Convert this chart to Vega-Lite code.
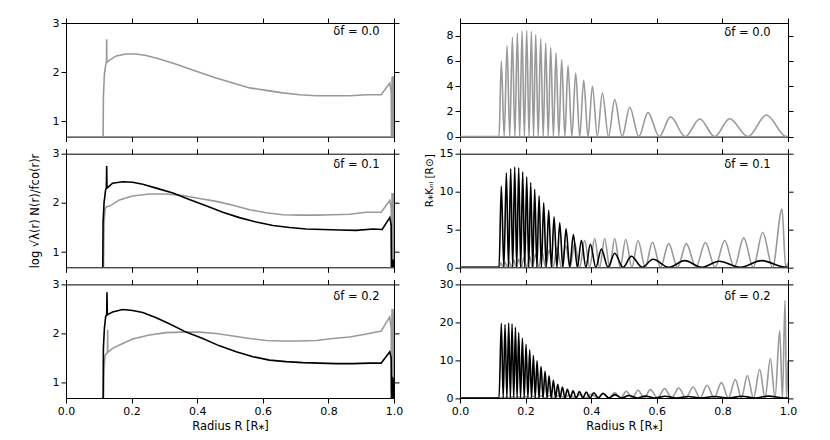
{
"$schema": "https://vega.github.io/schema/vega-lite/v6.json",
"padding": {"left": 28, "top": 16, "right": 5, "bottom": 5},
"autosize": {"type": "pad"},
"background": "white",
"bounds": "flush",
"columns": 2,
"spacing": {"row": 16.7, "column": 66},
"datasets": {
"L0g": [{"x":0.113,"y":0.5},{"x":0.114,"y":1.5},{"x":0.117,"y":1.95},{"x":0.121,"y":2.15},{"x":0.1235,"y":2.22},{"x":0.124,"y":2.67},{"x":0.1245,"y":2.2},{"x":0.132,"y":2.24},{"x":0.153,"y":2.33},{"x":0.183,"y":2.37},{"x":0.214,"y":2.37},{"x":0.244,"y":2.34},{"x":0.285,"y":2.27},{"x":0.336,"y":2.16},{"x":0.397,"y":2.02},{"x":0.458,"y":1.88},{"x":0.509,"y":1.78},{"x":0.56,"y":1.68},{"x":0.61,"y":1.63},{"x":0.661,"y":1.58},{"x":0.712,"y":1.54},{"x":0.763,"y":1.52},{"x":0.814,"y":1.52},{"x":0.865,"y":1.52},{"x":0.916,"y":1.54},{"x":0.961,"y":1.54},{"x":0.987,"y":1.78},{"x":0.9915,"y":1.6},{"x":0.9925,"y":0.5},{"x":0.994,"y":1.9},{"x":0.9955,"y":0.5},{"x":0.997,"y":1.92},{"x":0.9985,"y":0.5},{"x":1.0,"y":1.9}],
"L1g": [{"x":0.114,"y":0.5},{"x":0.116,"y":1.6},{"x":0.119,"y":1.88},{"x":0.123,"y":1.92},{"x":0.132,"y":1.93},{"x":0.163,"y":2.06},{"x":0.203,"y":2.14},{"x":0.254,"y":2.18},{"x":0.305,"y":2.18},{"x":0.356,"y":2.15},{"x":0.407,"y":2.09},{"x":0.458,"y":2.03},{"x":0.509,"y":1.95},{"x":0.56,"y":1.86},{"x":0.61,"y":1.8},{"x":0.661,"y":1.76},{"x":0.712,"y":1.75},{"x":0.763,"y":1.75},{"x":0.814,"y":1.76},{"x":0.865,"y":1.77},{"x":0.916,"y":1.81},{"x":0.961,"y":1.81},{"x":0.987,"y":2.05},{"x":0.9915,"y":1.9},{"x":0.9925,"y":0.5},{"x":0.994,"y":2.2},{"x":0.9955,"y":0.5},{"x":0.997,"y":2.2},{"x":0.9985,"y":0.5},{"x":1.0,"y":2.2}],
"L1k": [{"x":0.112,"y":0.5},{"x":0.113,"y":1.6},{"x":0.116,"y":2.0},{"x":0.121,"y":2.28},{"x":0.123,"y":2.3},{"x":0.124,"y":2.75},{"x":0.125,"y":2.3},{"x":0.127,"y":2.31},{"x":0.142,"y":2.4},{"x":0.173,"y":2.43},{"x":0.203,"y":2.42},{"x":0.234,"y":2.38},{"x":0.275,"y":2.3},{"x":0.326,"y":2.2},{"x":0.376,"y":2.07},{"x":0.427,"y":1.94},{"x":0.478,"y":1.81},{"x":0.529,"y":1.7},{"x":0.58,"y":1.61},{"x":0.631,"y":1.54},{"x":0.682,"y":1.5},{"x":0.732,"y":1.47},{"x":0.783,"y":1.46},{"x":0.834,"y":1.45},{"x":0.885,"y":1.44},{"x":0.936,"y":1.47},{"x":0.964,"y":1.46},{"x":0.987,"y":1.7},{"x":0.9915,"y":1.55},{"x":0.9925,"y":0.5},{"x":0.995,"y":0.85},{"x":0.997,"y":0.5},{"x":0.999,"y":0.85}],
"L2g": [{"x":0.114,"y":0.5},{"x":0.116,"y":1.3},{"x":0.119,"y":1.55},{"x":0.124,"y":1.6},{"x":0.1265,"y":1.62},{"x":0.127,"y":2.08},{"x":0.1275,"y":1.62},{"x":0.142,"y":1.7},{"x":0.173,"y":1.8},{"x":0.203,"y":1.89},{"x":0.254,"y":1.97},{"x":0.305,"y":2.02},{"x":0.356,"y":2.03},{"x":0.407,"y":2.03},{"x":0.458,"y":2.0},{"x":0.509,"y":1.95},{"x":0.56,"y":1.9},{"x":0.61,"y":1.86},{"x":0.661,"y":1.85},{"x":0.712,"y":1.85},{"x":0.763,"y":1.86},{"x":0.814,"y":1.9},{"x":0.865,"y":1.93},{"x":0.916,"y":1.99},{"x":0.961,"y":2.05},{"x":0.987,"y":2.34},{"x":0.9915,"y":2.1},{"x":0.9925,"y":0.5},{"x":0.994,"y":2.5},{"x":0.9955,"y":0.5},{"x":0.997,"y":2.5},{"x":0.9985,"y":0.5},{"x":1.0,"y":2.4}],
"L2k": [{"x":0.113,"y":0.5},{"x":0.114,"y":1.7},{"x":0.117,"y":2.1},{"x":0.121,"y":2.35},{"x":0.124,"y":2.38},{"x":0.125,"y":2.84},{"x":0.126,"y":2.38},{"x":0.128,"y":2.39},{"x":0.142,"y":2.44},{"x":0.173,"y":2.49},{"x":0.203,"y":2.47},{"x":0.234,"y":2.43},{"x":0.275,"y":2.32},{"x":0.315,"y":2.2},{"x":0.366,"y":2.03},{"x":0.417,"y":1.9},{"x":0.468,"y":1.75},{"x":0.519,"y":1.63},{"x":0.57,"y":1.53},{"x":0.62,"y":1.46},{"x":0.671,"y":1.43},{"x":0.722,"y":1.41},{"x":0.773,"y":1.4},{"x":0.824,"y":1.39},{"x":0.875,"y":1.39},{"x":0.926,"y":1.4},{"x":0.961,"y":1.4},{"x":0.987,"y":1.63},{"x":0.9915,"y":1.5},{"x":0.9925,"y":0.5},{"x":0.994,"y":1.12},{"x":0.9955,"y":0.5},{"x":0.997,"y":1.1},{"x":0.9985,"y":0.5},{"x":1.0,"y":1.0}],
"R0g": [{"x":0,"y":0},{"x":0.119,"y":0},{"x":0.126,"y":5.97},{"x":0.1347,"y":0},{"x":0.1434,"y":7.2},{"x":0.1516,"y":0},{"x":0.1597,"y":7.87},{"x":0.1673,"y":0},{"x":0.1749,"y":8.21},{"x":0.182,"y":0},{"x":0.1891,"y":8.37},{"x":0.1963,"y":0},{"x":0.2034,"y":8.4},{"x":0.2105,"y":0},{"x":0.2176,"y":8.34},{"x":0.2242,"y":0},{"x":0.2308,"y":8.08},{"x":0.2384,"y":0},{"x":0.246,"y":7.76},{"x":0.2537,"y":0},{"x":0.2613,"y":7.42},{"x":0.2689,"y":0},{"x":0.2765,"y":7.07},{"x":0.2847,"y":0},{"x":0.2928,"y":6.63},{"x":0.3014,"y":0},{"x":0.31,"y":6.1},{"x":0.3197,"y":0},{"x":0.3293,"y":5.62},{"x":0.341,"y":0},{"x":0.3527,"y":5.04},{"x":0.3649,"y":0},{"x":0.3771,"y":4.46},{"x":0.3904,"y":0},{"x":0.4036,"y":3.99},{"x":0.4188,"y":0},{"x":0.434,"y":3.46},{"x":0.4528,"y":0},{"x":0.4716,"y":2.93},{"x":0.4945,"y":0},{"x":0.5174,"y":2.32},{"x":0.5452,"y":0},{"x":0.573,"y":1.9},{"x":0.6075,"y":0},{"x":0.642,"y":1.56},{"x":0.6865,"y":0},{"x":0.731,"y":1.4},{"x":0.7765,"y":0},{"x":0.822,"y":1.42},{"x":0.878,"y":0},{"x":0.934,"y":1.71},{"x":0.995,"y":0},{"x":1.0,"y":0}],
"R1g": [{"x":0,"y":0},{"x":0.119,"y":0},{"x":0.125,"y":0.6},{"x":0.131,"y":0},{"x":0.137,"y":0.7},{"x":0.1435,"y":0},{"x":0.15,"y":0.8},{"x":0.157,"y":0},{"x":0.164,"y":0.95},{"x":0.1715,"y":0},{"x":0.179,"y":1.1},{"x":0.187,"y":0},{"x":0.195,"y":1.3},{"x":0.2035,"y":0},{"x":0.212,"y":1.5},{"x":0.221,"y":0},{"x":0.23,"y":1.75},{"x":0.24,"y":0},{"x":0.25,"y":2.0},{"x":0.261,"y":0},{"x":0.272,"y":2.3},{"x":0.284,"y":0},{"x":0.296,"y":2.6},{"x":0.309,"y":0},{"x":0.322,"y":2.9},{"x":0.3358,"y":0},{"x":0.3497,"y":3.2},{"x":0.3649,"y":0},{"x":0.3801,"y":3.57},{"x":0.3954,"y":0},{"x":0.4106,"y":3.79},{"x":0.4258,"y":0},{"x":0.441,"y":3.8},{"x":0.4563,"y":0},{"x":0.4716,"y":3.8},{"x":0.4884,"y":0},{"x":0.5052,"y":3.7},{"x":0.524,"y":0},{"x":0.5428,"y":3.53},{"x":0.5647,"y":0},{"x":0.5865,"y":3.31},{"x":0.6114,"y":0},{"x":0.6363,"y":3.13},{"x":0.6632,"y":0},{"x":0.6901,"y":3.13},{"x":0.7191,"y":0},{"x":0.7481,"y":3.27},{"x":0.7776,"y":0},{"x":0.807,"y":3.53},{"x":0.836,"y":0},{"x":0.865,"y":3.88},{"x":0.894,"y":0},{"x":0.9229,"y":4.59},{"x":0.953,"y":0},{"x":0.9818,"y":7.68},{"x":0.993,"y":0},{"x":1.0,"y":0.6}],
"R1k": [{"x":0,"y":0},{"x":0.119,"y":0},{"x":0.126,"y":10.72},{"x":0.1337,"y":0},{"x":0.1414,"y":12.48},{"x":0.148,"y":0},{"x":0.1546,"y":13.05},{"x":0.1607,"y":0},{"x":0.1668,"y":13.23},{"x":0.1729,"y":0},{"x":0.179,"y":13.14},{"x":0.1851,"y":0},{"x":0.1911,"y":12.6},{"x":0.1973,"y":0},{"x":0.2034,"y":11.95},{"x":0.2095,"y":0},{"x":0.2156,"y":11.2},{"x":0.2217,"y":0},{"x":0.2278,"y":10.3},{"x":0.2344,"y":0},{"x":0.241,"y":9.44},{"x":0.2481,"y":0},{"x":0.2552,"y":8.51},{"x":0.2628,"y":0},{"x":0.2704,"y":7.54},{"x":0.2786,"y":0},{"x":0.2867,"y":6.66},{"x":0.2954,"y":0},{"x":0.304,"y":5.87},{"x":0.3137,"y":0},{"x":0.3233,"y":5.07},{"x":0.3345,"y":0},{"x":0.3456,"y":4.32},{"x":0.3578,"y":0},{"x":0.37,"y":3.57},{"x":0.3837,"y":0},{"x":0.3974,"y":3.04},{"x":0.4142,"y":0},{"x":0.431,"y":2.4},{"x":0.4513,"y":0},{"x":0.4716,"y":1.85},{"x":0.497,"y":0},{"x":0.5224,"y":1.46},{"x":0.5555,"y":0},{"x":0.5885,"y":1.06},{"x":0.6368,"y":0},{"x":0.685,"y":0.88},{"x":0.7375,"y":0},{"x":0.79,"y":0.79},{"x":0.8545,"y":0},{"x":0.919,"y":0.88},{"x":0.995,"y":0},{"x":1.0,"y":0}],
"R2g": [{"x":0,"y":0},{"x":0.119,"y":0},{"x":0.127,"y":0.2},{"x":0.1345,"y":0},{"x":0.142,"y":0.25},{"x":0.1505,"y":0},{"x":0.159,"y":0.3},{"x":0.1685,"y":0},{"x":0.178,"y":0.35},{"x":0.1885,"y":0},{"x":0.199,"y":0.4},{"x":0.2105,"y":0},{"x":0.222,"y":0.45},{"x":0.2345,"y":0},{"x":0.247,"y":0.55},{"x":0.2605,"y":0},{"x":0.274,"y":0.65},{"x":0.2885,"y":0},{"x":0.303,"y":0.75},{"x":0.3185,"y":0},{"x":0.334,"y":0.85},{"x":0.3505,"y":0},{"x":0.367,"y":0.95},{"x":0.384,"y":0},{"x":0.401,"y":1.05},{"x":0.4185,"y":0},{"x":0.436,"y":1.15},{"x":0.4538,"y":0},{"x":0.4716,"y":1.42},{"x":0.4894,"y":0},{"x":0.5072,"y":1.77},{"x":0.525,"y":0},{"x":0.5428,"y":2.04},{"x":0.5616,"y":0},{"x":0.5804,"y":2.2},{"x":0.6022,"y":0},{"x":0.624,"y":2.48},{"x":0.6454,"y":0},{"x":0.6668,"y":2.65},{"x":0.6887,"y":0},{"x":0.7105,"y":2.92},{"x":0.7318,"y":0},{"x":0.7531,"y":3.36},{"x":0.775,"y":0},{"x":0.7969,"y":4.07},{"x":0.8182,"y":0},{"x":0.8395,"y":4.87},{"x":0.8578,"y":0},{"x":0.8761,"y":5.93},{"x":0.8949,"y":0},{"x":0.9137,"y":7.61},{"x":0.93,"y":0},{"x":0.9462,"y":10.35},{"x":0.9605,"y":0},{"x":0.9747,"y":17.8},{"x":0.983,"y":0},{"x":0.991,"y":25.8},{"x":0.9955,"y":0},{"x":1.0,"y":10}],
"R2k": [{"x":0,"y":0},{"x":0.119,"y":0},{"x":0.126,"y":19.7},{"x":0.1317,"y":0},{"x":0.1373,"y":19.4},{"x":0.1429,"y":0},{"x":0.1485,"y":19.8},{"x":0.1536,"y":0},{"x":0.1587,"y":19.6},{"x":0.1639,"y":0},{"x":0.169,"y":18.7},{"x":0.174,"y":0},{"x":0.179,"y":17.3},{"x":0.1846,"y":0},{"x":0.1902,"y":15.8},{"x":0.1958,"y":0},{"x":0.2014,"y":14.2},{"x":0.207,"y":0},{"x":0.2125,"y":12.7},{"x":0.2181,"y":0},{"x":0.2237,"y":11.2},{"x":0.2293,"y":0},{"x":0.2349,"y":9.8},{"x":0.241,"y":0},{"x":0.2471,"y":8.3},{"x":0.2532,"y":0},{"x":0.2593,"y":7.1},{"x":0.2654,"y":0},{"x":0.2715,"y":5.84},{"x":0.2781,"y":0},{"x":0.2847,"y":4.69},{"x":0.2914,"y":0},{"x":0.298,"y":3.63},{"x":0.3051,"y":0},{"x":0.3122,"y":2.92},{"x":0.3198,"y":0},{"x":0.3274,"y":2.3},{"x":0.336,"y":0},{"x":0.3446,"y":1.9},{"x":0.3543,"y":0},{"x":0.364,"y":1.7},{"x":0.3745,"y":0},{"x":0.385,"y":1.55},{"x":0.3965,"y":0},{"x":0.408,"y":1.4},{"x":0.422,"y":0},{"x":0.436,"y":1.25},{"x":0.454,"y":0},{"x":0.472,"y":0.9},{"x":0.4935,"y":0},{"x":0.515,"y":0.65},{"x":0.54,"y":0},{"x":0.565,"y":0.5},{"x":0.595,"y":0},{"x":0.625,"y":0.45},{"x":0.66,"y":0},{"x":0.695,"y":0.4},{"x":0.735,"y":0},{"x":0.775,"y":0.4},{"x":0.8175,"y":0},{"x":0.86,"y":0.45},{"x":0.9,"y":0},{"x":0.94,"y":0.5},{"x":0.99,"y":0},{"x":1.0,"y":0}]
},
"concat": [
{"width": 328, "height": 113.6, "resolve": {"axis": {"x": "independent", "y": "independent"}},
 "layer": [
  {"data": {"name": "L0g"}, "mark": {"type": "line", "color": "#999999", "strokeWidth": 1.6, "clip": true},
   "encoding": {"x": {"field": "x", "type": "quantitative", "scale": {"domain": [0, 1], "nice": false, "zero": false}, "axis": {"orient": "bottom", "values": [0,0.2,0.4,0.6,0.8,1], "labels": false, "title": null}},
    "y": {"field": "y", "type": "quantitative", "scale": {"domain": [0.69, 3], "nice": false, "zero": false}, "axis": {"orient": "left", "values": [1,2,3], "title": null}}}},
  {"data": {"values": [{}]}, "mark": {"type": "text", "align": "right", "baseline": "middle"},
   "encoding": {"x": {"datum": 0.956, "type": "quantitative", "axis": {"orient": "top", "values": [0,0.2,0.4,0.6,0.8,1], "labels": false, "title": null}},
    "y": {"datum": 2.82, "type": "quantitative", "axis": {"orient": "right", "values": [1,2,3], "labels": false, "title": null}},
    "text": {"value": "δf = 0.0"}}}
 ]},
{"width": 328, "height": 113.6, "resolve": {"axis": {"x": "independent", "y": "independent"}},
 "layer": [
  {"data": {"name": "R0g"}, "mark": {"type": "line", "color": "#999999", "strokeWidth": 1.6, "clip": true, "interpolate": "monotone"},
   "encoding": {"x": {"field": "x", "type": "quantitative", "scale": {"domain": [0, 1], "nice": false, "zero": false}, "axis": {"orient": "bottom", "values": [0,0.2,0.4,0.6,0.8,1], "labels": false, "title": null}},
    "y": {"field": "y", "type": "quantitative", "scale": {"domain": [0, 9], "nice": false}, "axis": {"orient": "left", "values": [0,2,4,6,8], "title": null}}}},
  {"data": {"values": [{}]}, "mark": {"type": "text", "align": "right", "baseline": "middle"},
   "encoding": {"x": {"datum": 0.947, "type": "quantitative", "axis": {"orient": "top", "values": [0,0.2,0.4,0.6,0.8,1], "labels": false, "title": null}},
    "y": {"datum": 8.24, "type": "quantitative", "axis": {"orient": "right", "values": [0,2,4,6,8], "labels": false, "title": null}},
    "text": {"value": "δf = 0.0"}}}
 ]},
{"width": 328, "height": 113.6, "resolve": {"axis": {"x": "independent", "y": "independent"}},
 "layer": [
  {"data": {"name": "L1g"}, "mark": {"type": "line", "color": "#999999", "strokeWidth": 1.6, "clip": true},
   "encoding": {"x": {"field": "x", "type": "quantitative", "scale": {"domain": [0, 1], "nice": false, "zero": false}, "axis": {"orient": "bottom", "values": [0,0.2,0.4,0.6,0.8,1], "labels": false, "title": null}},
    "y": {"field": "y", "type": "quantitative", "scale": {"domain": [0.69, 3], "nice": false, "zero": false}, "axis": {"orient": "left", "values": [1,2,3], "title": "log √λ(r) N(r)/fco(r)r", "titlePadding": 12}}}},
  {"data": {"name": "L1k"}, "mark": {"type": "line", "color": "#000000", "strokeWidth": 1.6, "clip": true},
   "encoding": {"x": {"field": "x", "type": "quantitative", "axis": null}, "y": {"field": "y", "type": "quantitative", "axis": null}}},
  {"data": {"values": [{}]}, "mark": {"type": "text", "align": "right", "baseline": "middle"},
   "encoding": {"x": {"datum": 0.956, "type": "quantitative", "axis": {"orient": "top", "values": [0,0.2,0.4,0.6,0.8,1], "labels": false, "title": null}},
    "y": {"datum": 2.77, "type": "quantitative", "axis": {"orient": "right", "values": [1,2,3], "labels": false, "title": null}},
    "text": {"value": "δf = 0.1"}}}
 ]},
{"width": 328, "height": 113.6, "resolve": {"axis": {"x": "independent", "y": "independent"}},
 "layer": [
  {"data": {"name": "R1g"}, "mark": {"type": "line", "color": "#999999", "strokeWidth": 1.6, "clip": true, "interpolate": "monotone"},
   "encoding": {"x": {"field": "x", "type": "quantitative", "scale": {"domain": [0, 1], "nice": false, "zero": false}, "axis": {"orient": "bottom", "values": [0,0.2,0.4,0.6,0.8,1], "labels": false, "title": null}},
    "y": {"field": "y", "type": "quantitative", "scale": {"domain": [0, 15], "nice": false}, "axis": {"orient": "left", "values": [0,5,10,15], "title": "R⁎Kₙₗ [R⊙]", "titlePadding": 5, "titleAnchor": "end", "titleFontSize": 10.5}}}},
  {"data": {"name": "R1k"}, "mark": {"type": "line", "color": "#000000", "strokeWidth": 1.6, "clip": true, "interpolate": "monotone"},
   "encoding": {"x": {"field": "x", "type": "quantitative", "axis": null}, "y": {"field": "y", "type": "quantitative", "axis": null}}},
  {"data": {"values": [{}]}, "mark": {"type": "text", "align": "right", "baseline": "middle"},
   "encoding": {"x": {"datum": 0.947, "type": "quantitative", "axis": {"orient": "top", "values": [0,0.2,0.4,0.6,0.8,1], "labels": false, "title": null}},
    "y": {"datum": 13.5, "type": "quantitative", "axis": {"orient": "right", "values": [0,5,10,15], "labels": false, "title": null}},
    "text": {"value": "δf = 0.1"}}}
 ]},
{"width": 328, "height": 113.6, "resolve": {"axis": {"x": "independent", "y": "independent"}},
 "layer": [
  {"data": {"name": "L2g"}, "mark": {"type": "line", "color": "#999999", "strokeWidth": 1.6, "clip": true},
   "encoding": {"x": {"field": "x", "type": "quantitative", "scale": {"domain": [0, 1], "nice": false, "zero": false}, "axis": {"orient": "bottom", "values": [0,0.2,0.4,0.6,0.8,1], "format": ".1f", "title": "Radius R [R⁎]"}},
    "y": {"field": "y", "type": "quantitative", "scale": {"domain": [0.69, 3], "nice": false, "zero": false}, "axis": {"orient": "left", "values": [1,2,3], "title": null}}}},
  {"data": {"name": "L2k"}, "mark": {"type": "line", "color": "#000000", "strokeWidth": 1.6, "clip": true},
   "encoding": {"x": {"field": "x", "type": "quantitative", "axis": null}, "y": {"field": "y", "type": "quantitative", "axis": null}}},
  {"data": {"values": [{}]}, "mark": {"type": "text", "align": "right", "baseline": "middle"},
   "encoding": {"x": {"datum": 0.956, "type": "quantitative", "axis": {"orient": "top", "values": [0,0.2,0.4,0.6,0.8,1], "labels": false, "title": null}},
    "y": {"datum": 2.74, "type": "quantitative", "axis": {"orient": "right", "values": [1,2,3], "labels": false, "title": null}},
    "text": {"value": "δf = 0.2"}}}
 ]},
{"width": 328, "height": 113.6, "resolve": {"axis": {"x": "independent", "y": "independent"}},
 "layer": [
  {"data": {"name": "R2g"}, "mark": {"type": "line", "color": "#999999", "strokeWidth": 1.6, "clip": true, "interpolate": "monotone"},
   "encoding": {"x": {"field": "x", "type": "quantitative", "scale": {"domain": [0, 1], "nice": false, "zero": false}, "axis": {"orient": "bottom", "values": [0,0.2,0.4,0.6,0.8,1], "format": ".1f", "title": "Radius R [R⁎]"}},
    "y": {"field": "y", "type": "quantitative", "scale": {"domain": [0, 30], "nice": false}, "axis": {"orient": "left", "values": [0,10,20,30], "title": null}}}},
  {"data": {"name": "R2k"}, "mark": {"type": "line", "color": "#000000", "strokeWidth": 1.6, "clip": true, "interpolate": "monotone"},
   "encoding": {"x": {"field": "x", "type": "quantitative", "axis": null}, "y": {"field": "y", "type": "quantitative", "axis": null}}},
  {"data": {"values": [{}]}, "mark": {"type": "text", "align": "right", "baseline": "middle"},
   "encoding": {"x": {"datum": 0.947, "type": "quantitative", "axis": {"orient": "top", "values": [0,0.2,0.4,0.6,0.8,1], "labels": false, "title": null}},
    "y": {"datum": 26.6, "type": "quantitative", "axis": {"orient": "right", "values": [0,10,20,30], "labels": false, "title": null}},
    "text": {"value": "δf = 0.2"}}}
 ]}
],
"config": {
 "font": "DejaVu Sans",
 "view": {"stroke": "#000000", "strokeWidth": 1},
 "axis": {"grid": false, "domain": false, "ticks": true, "tickSize": 5, "tickColor": "#000000", "tickWidth": 1, "labelFont": "DejaVu Sans", "labelFontSize": 11, "labelColor": "#000000", "labelPadding": 2, "labelFlush": false, "labelOverlap": false, "titleFont": "DejaVu Sans", "titleFontSize": 11.5, "titleFontWeight": "normal", "titleColor": "#000000"},
 "text": {"font": "DejaVu Sans", "fontSize": 11.5, "color": "#000000"}
}
}
